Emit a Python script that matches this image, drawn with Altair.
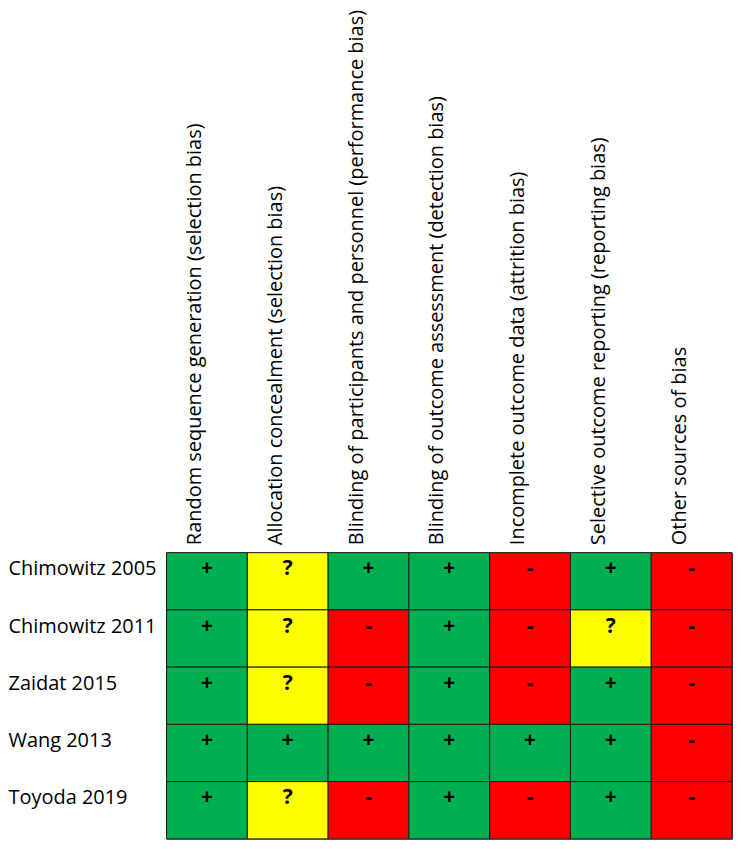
import altair as alt
import pandas as pd

studies = ["Chimowitz 2005", "Chimowitz 2011", "Zaidat 2015", "Wang 2013", "Toyoda 2019"]
domains = [
    "Random sequence generation (selection bias)",
    "Allocation concealment (selection bias)",
    "Blinding of participants and personnel (performance bias)",
    "Blinding of outcome assessment (detection bias)",
    "Incomplete outcome data (attrition bias)",
    "Selective outcome reporting (reporting bias)",
    "Other sources of bias",
]
ratings = [
    ["+", "?", "+", "+", "-", "+", "-"],
    ["+", "?", "-", "+", "-", "?", "-"],
    ["+", "?", "-", "+", "-", "+", "-"],
    ["+", "+", "+", "+", "+", "+", "-"],
    ["+", "?", "-", "+", "-", "+", "-"],
]
symbols = ["+", "?", "-"]
colors = ["#00B050", "#FFFF00", "#FF0000"]

rows = []
for s, r in zip(studies, ratings):
    for d, v in zip(domains, r):
        rows.append({"study": s, "domain": d, "rating": v})
df = pd.DataFrame(rows)

FONT = "Open Sans"

x = alt.X("domain:N", sort=domains, title=None,
          scale=alt.Scale(paddingInner=0, paddingOuter=0),
          axis=alt.Axis(orient="top", labelAngle=-90, labelLimit=0, ticks=False, domain=False,
                        labelFontSize=20, labelFont=FONT, labelColor="#000",
                        labelPadding=8, labelOffset=-12, minExtent=545, labelAlign="left",
                        labelBaseline="middle"))
y = alt.Y("study:N", sort=studies, title=None,
          scale=alt.Scale(paddingInner=0, paddingOuter=0),
          axis=alt.Axis(ticks=False, domain=False, labelAlign="left", labelPadding=159,
                        labelFontSize=20, labelFont=FONT, labelColor="#000",
                        labelOffset=-12, minExtent=159, labelLimit=0))

rects = alt.Chart(df).mark_rect(stroke="#1a1a1a", strokeWidth=1).encode(
    x=x, y=y,
    color=alt.Color("rating:N", scale=alt.Scale(domain=symbols, range=colors), legend=None),
)
texts = alt.Chart(df).mark_text(fontSize=21, fontWeight="bold", font=FONT, color="#000", dy=-12).encode(
    x=alt.X("domain:N", sort=domains), y=alt.Y("study:N", sort=studies), text="rating:N"
)

chart = (rects + texts).properties(width=567, height=287, padding=0).configure_view(stroke="#555")
chart.save("out.html", embed_options={"renderer": "svg", "actions": False})
